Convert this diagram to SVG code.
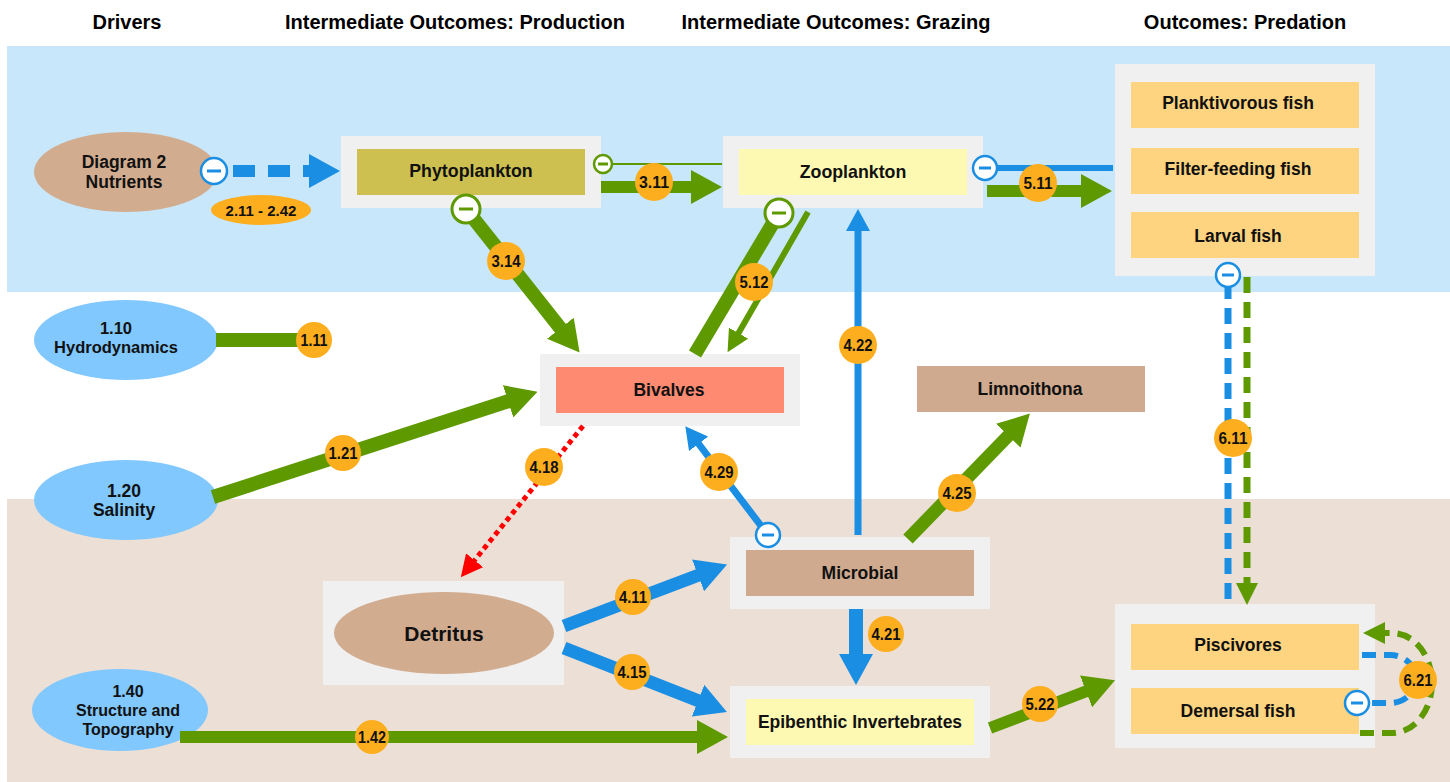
<svg xmlns="http://www.w3.org/2000/svg" width="1450" height="782" viewBox="0 0 1450 782">
<style>
.hdr{font-family:"Liberation Sans",Arial,sans-serif;font-weight:bold;font-size:20px;fill:#000;text-anchor:middle}
.t{font-family:"Liberation Sans",Arial,sans-serif;font-weight:bold;font-size:17.8px;fill:#111;text-anchor:middle}
.te{font-family:"Liberation Sans",Arial,sans-serif;font-weight:bold;font-size:17.5px;fill:#111;text-anchor:middle}
.bt{font-family:"Liberation Sans",Arial,sans-serif;font-weight:bold;font-size:17px;fill:#111;text-anchor:middle}
.bt2{font-family:"Liberation Sans",Arial,sans-serif;font-weight:bold;font-size:15px;fill:#111;text-anchor:middle}
.outer{fill:#f0f0f0}
.badge{fill:#fdae1e}
.g{stroke:#5e9900;fill:none}
.b{stroke:#1a8ee3;fill:none}
.mB{fill:#fff;stroke:#1a8ee3;stroke-width:2.5}
.mG{fill:#fff;stroke:#5e9900;stroke-width:3}
.barB{stroke:#1a8ee3;stroke-width:3}
.barG{stroke:#5e9900;stroke-width:3}
</style>
<defs>
<marker id="ahG" markerUnits="userSpaceOnUse" markerWidth="31" markerHeight="34" refX="1" refY="17" orient="auto"><path d="M0,0 L31,17 L0,34 z" fill="#5e9900"/></marker>
<marker id="ahB" markerUnits="userSpaceOnUse" markerWidth="31" markerHeight="34" refX="1" refY="17" orient="auto"><path d="M0,0 L31,17 L0,34 z" fill="#1a8ee3"/></marker>
<marker id="ahGs" markerUnits="userSpaceOnUse" markerWidth="22" markerHeight="22" refX="1" refY="11" orient="auto"><path d="M0,0 L22,11 L0,22 z" fill="#5e9900"/></marker>
<marker id="ahBs" markerUnits="userSpaceOnUse" markerWidth="22" markerHeight="24" refX="1" refY="12" orient="auto"><path d="M0,0 L22,12 L0,24 z" fill="#1a8ee3"/></marker>
<marker id="ahR" markerUnits="userSpaceOnUse" markerWidth="22" markerHeight="22" refX="1" refY="11" orient="auto"><path d="M0,0 L22,11 L0,22 z" fill="#ff0000"/></marker>
</defs>

<rect x="0" y="0" width="1450" height="782" fill="#fff"/>
<rect x="7" y="46" width="1443" height="246" fill="#c9e7fb"/>
<rect x="7" y="499" width="1443" height="283" fill="#ecdfd5"/>

<g id="headers">
<text class="hdr" x="127" y="29">Drivers</text>
<text class="hdr" x="455" y="29">Intermediate Outcomes: Production</text>
<text class="hdr" x="836" y="29">Intermediate Outcomes: Grazing</text>
<text class="hdr" x="1245" y="29">Outcomes: Predation</text>
</g>

<g id="nutrients"><ellipse cx="126" cy="172" rx="92" ry="40" fill="#d2ac8f"/><text class="te" x="124" y="168">Diagram 2</text><text class="te" x="124" y="188">Nutrients</text></g>
<g id="hydrodynamics"><ellipse cx="126" cy="340" rx="92" ry="40" fill="#80c8fe"/><text class="te" style="font-size:16.5px" x="116" y="334">1.10</text><text class="te" style="font-size:16.5px" x="116" y="353">Hydrodynamics</text></g>
<g id="salinity"><ellipse cx="126" cy="500" rx="92" ry="40" fill="#80c8fe"/><text class="te" x="124" y="497">1.20</text><text class="te" x="124" y="516">Salinity</text></g>
<g id="structure"><ellipse cx="120" cy="710" rx="88" ry="41" fill="#80c8fe"/><text class="te" style="font-size:16px" x="128" y="697">1.40</text><text class="te" style="font-size:16px" x="128" y="716">Structure and</text><text class="te" style="font-size:16px" x="128" y="735">Topography</text></g>

<g id="phytoplankton"><rect class="outer" x="341" y="136" width="260" height="72"/><rect x="357" y="149" width="228" height="46" fill="#cdc050"/><text class="t" x="471" y="177">Phytoplankton</text></g>
<g id="zooplankton"><rect class="outer" x="723" y="136" width="260" height="72"/><rect x="739" y="149" width="228" height="46" fill="#fef9b2"/><text class="t" x="853" y="178">Zooplankton</text></g>
<g id="predation-top"><rect class="outer" x="1115" y="64" width="260" height="212"/>
<rect x="1131" y="82" width="228" height="46" fill="#fed480"/><text class="te" x="1238" y="109">Planktivorous fish</text>
<rect x="1131" y="148" width="228" height="46" fill="#fed480"/><text class="te" x="1238" y="175">Filter-feeding fish</text>
<rect x="1131" y="212" width="228" height="46" fill="#fed480"/><text class="te" x="1238" y="242">Larval fish</text></g>
<g id="bivalves"><rect class="outer" x="540" y="354" width="260" height="72"/><rect x="556" y="367" width="228" height="46" fill="#fe8a72"/><text class="te" x="669" y="396">Bivalves</text></g>
<g id="limnoithona"><rect x="917" y="366" width="228" height="46" fill="#d0aa8f"/><text class="te" x="1030" y="395">Limnoithona</text></g>
<g id="microbial"><rect class="outer" x="730" y="537" width="260" height="72"/><rect x="746" y="550" width="228" height="46" fill="#d0aa8f"/><text class="te" x="860" y="579">Microbial</text></g>
<g id="detritus"><rect class="outer" x="323" y="581" width="241" height="104"/><ellipse cx="444" cy="633" rx="110" ry="41" fill="#d2ac8f"/><text class="t" style="font-size:21px" x="444" y="641">Detritus</text></g>
<g id="epibenthic"><rect class="outer" x="730" y="686" width="260" height="72"/><rect x="746" y="699" width="228" height="46" fill="#fef9b2"/><text class="te" x="860" y="728">Epibenthic Invertebrates</text></g>
<g id="predation-bottom"><rect class="outer" x="1115" y="604" width="260" height="144"/>
<rect x="1131" y="624" width="228" height="46" fill="#fed480"/><text class="te" x="1238" y="651">Piscivores</text>
<rect x="1131" y="688" width="228" height="46" fill="#fed480"/><text class="te" x="1238" y="717">Demersal fish</text></g>

<g id="connectors">
<line class="b" x1="227" y1="171" x2="310" y2="171" stroke-width="12" stroke-dasharray="22 13" stroke-dashoffset="-6" marker-end="url(#ahB)"/>
<line class="g" x1="216" y1="340" x2="300" y2="340" stroke-width="14"/>
<line class="g" x1="213" y1="497" x2="509" y2="401" stroke-width="14" marker-end="url(#ahG)"/>
<line class="g" x1="612" y1="164" x2="722" y2="164" stroke-width="2"/>
<line class="g" x1="601" y1="187" x2="692" y2="187" stroke-width="12" marker-end="url(#ahG)"/>
<line class="g" x1="466" y1="209" x2="561" y2="329" stroke-width="14" marker-end="url(#ahG)"/>
<line class="g" x1="695" y1="354" x2="779" y2="213" stroke-width="14"/>
<line class="g" x1="808" y1="212" x2="738" y2="334" stroke-width="6" marker-end="url(#ahGs)"/>
<line class="b" x1="985" y1="168" x2="1113" y2="168" stroke-width="6"/>
<line class="g" x1="987" y1="191" x2="1082" y2="191" stroke-width="12" marker-end="url(#ahG)"/>
<line class="b" x1="858" y1="535" x2="858" y2="230" stroke-width="7" marker-end="url(#ahBs)"/>
<line class="g" x1="908" y1="539" x2="1009" y2="435" stroke-width="13" marker-end="url(#ahG)"/>
<line class="b" x1="768" y1="535" x2="698" y2="443" stroke-width="7" marker-end="url(#ahBs)"/>
<line x1="583" y1="426" x2="474" y2="561" stroke="#ff0000" stroke-width="5" stroke-dasharray="5 4" marker-end="url(#ahR)"/>
<line class="b" x1="564" y1="626" x2="699" y2="575" stroke-width="13" marker-end="url(#ahB)"/>
<line class="b" x1="564" y1="648" x2="699" y2="701" stroke-width="13" marker-end="url(#ahB)"/>
<line class="b" x1="856" y1="609" x2="856" y2="655" stroke-width="14" marker-end="url(#ahB)"/>
<line class="g" x1="180" y1="737" x2="698" y2="737" stroke-width="12" marker-end="url(#ahG)"/>
<line class="g" x1="990" y1="728" x2="1087" y2="691" stroke-width="12" marker-end="url(#ahG)"/>
<line class="b" x1="1228" y1="283" x2="1228" y2="604" stroke-width="7" stroke-dasharray="16 9"/>
<line class="g" x1="1247" y1="277" x2="1247" y2="584" stroke-width="7" stroke-dasharray="16 9" marker-end="url(#ahGs)"/>
<path class="g" d="M1360,733 L1392,733 A40,50 0 0 0 1392,633 L1384,633" stroke-width="6" stroke-dasharray="14 8" marker-end="url(#ahGs)"/>
<path class="b" d="M1362,655 L1390,655 A26,24 0 0 1 1390,703 L1370,703" stroke-width="6" stroke-dasharray="14 8"/>

<circle class="mB" cx="214" cy="171" r="13"/><line class="barB" x1="207" y1="171" x2="221" y2="171"/>
<circle class="mG" cx="603" cy="164" r="9" style="stroke-width:2.5"/><line class="barG" x1="598" y1="164" x2="608" y2="164"/>
<circle class="mG" cx="466" cy="209" r="14"/><line class="barG" x1="459" y1="209" x2="473" y2="209"/>
<circle class="mG" cx="779" cy="213" r="14"/><line class="barG" x1="772" y1="213" x2="786" y2="213"/>
<circle class="mB" cx="985" cy="168" r="12"/><line class="barB" x1="979" y1="168" x2="991" y2="168"/>
<circle class="mB" cx="1228" cy="275" r="12"/><line class="barB" x1="1222" y1="275" x2="1234" y2="275"/>
<circle class="mB" cx="768" cy="535" r="12"/><line class="barB" x1="762" y1="535" x2="774" y2="535"/>
<circle class="mB" cx="1357" cy="703" r="12"/><line class="barB" x1="1351" y1="703" x2="1363" y2="703"/>

<ellipse class="badge" cx="261" cy="210" rx="50" ry="15"/><text class="bt2" x="261" y="216">2.11 - 2.42</text>
<circle class="badge" cx="314" cy="340" r="18"/><text class="bt" x="314" y="346" textLength="27" lengthAdjust="spacingAndGlyphs">1.11</text>
<circle class="badge" cx="343" cy="453" r="18"/><text class="bt" x="343" y="459" textLength="29" lengthAdjust="spacingAndGlyphs">1.21</text>
<circle class="badge" cx="654" cy="182" r="19"/><text class="bt" x="654" y="188" textLength="30" lengthAdjust="spacingAndGlyphs">3.11</text>
<circle class="badge" cx="506" cy="261" r="19"/><text class="bt" x="506" y="267" textLength="29" lengthAdjust="spacingAndGlyphs">3.14</text>
<circle class="badge" cx="754" cy="282" r="19"/><text class="bt" x="754" y="288" textLength="29" lengthAdjust="spacingAndGlyphs">5.12</text>
<circle class="badge" cx="1038" cy="183" r="19"/><text class="bt" x="1038" y="189" textLength="29" lengthAdjust="spacingAndGlyphs">5.11</text>
<circle class="badge" cx="858" cy="345" r="19"/><text class="bt" x="858" y="351" textLength="29" lengthAdjust="spacingAndGlyphs">4.22</text>
<circle class="badge" cx="957" cy="493" r="19"/><text class="bt" x="957" y="499" textLength="29" lengthAdjust="spacingAndGlyphs">4.25</text>
<circle class="badge" cx="719" cy="472" r="19"/><text class="bt" x="719" y="478" textLength="29" lengthAdjust="spacingAndGlyphs">4.29</text>
<circle class="badge" cx="544" cy="467" r="19"/><text class="bt" x="544" y="473" textLength="29" lengthAdjust="spacingAndGlyphs">4.18</text>
<circle class="badge" cx="633" cy="597" r="18"/><text class="bt" x="633" y="603" textLength="28" lengthAdjust="spacingAndGlyphs">4.11</text>
<circle class="badge" cx="632" cy="672" r="18"/><text class="bt" x="632" y="678" textLength="29" lengthAdjust="spacingAndGlyphs">4.15</text>
<circle class="badge" cx="886" cy="634" r="18"/><text class="bt" x="886" y="640" textLength="29" lengthAdjust="spacingAndGlyphs">4.21</text>
<circle class="badge" cx="372" cy="737" r="17"/><text class="bt" x="372" y="743" textLength="28" lengthAdjust="spacingAndGlyphs">1.42</text>
<circle class="badge" cx="1040" cy="704" r="18"/><text class="bt" x="1040" y="710" textLength="29" lengthAdjust="spacingAndGlyphs">5.22</text>
<circle class="badge" cx="1233" cy="438" r="19"/><text class="bt" x="1233" y="444" textLength="29" lengthAdjust="spacingAndGlyphs">6.11</text>
<circle class="badge" cx="1418" cy="680" r="19"/><text class="bt" x="1418" y="686" textLength="29" lengthAdjust="spacingAndGlyphs">6.21</text>
</g>
</svg>
